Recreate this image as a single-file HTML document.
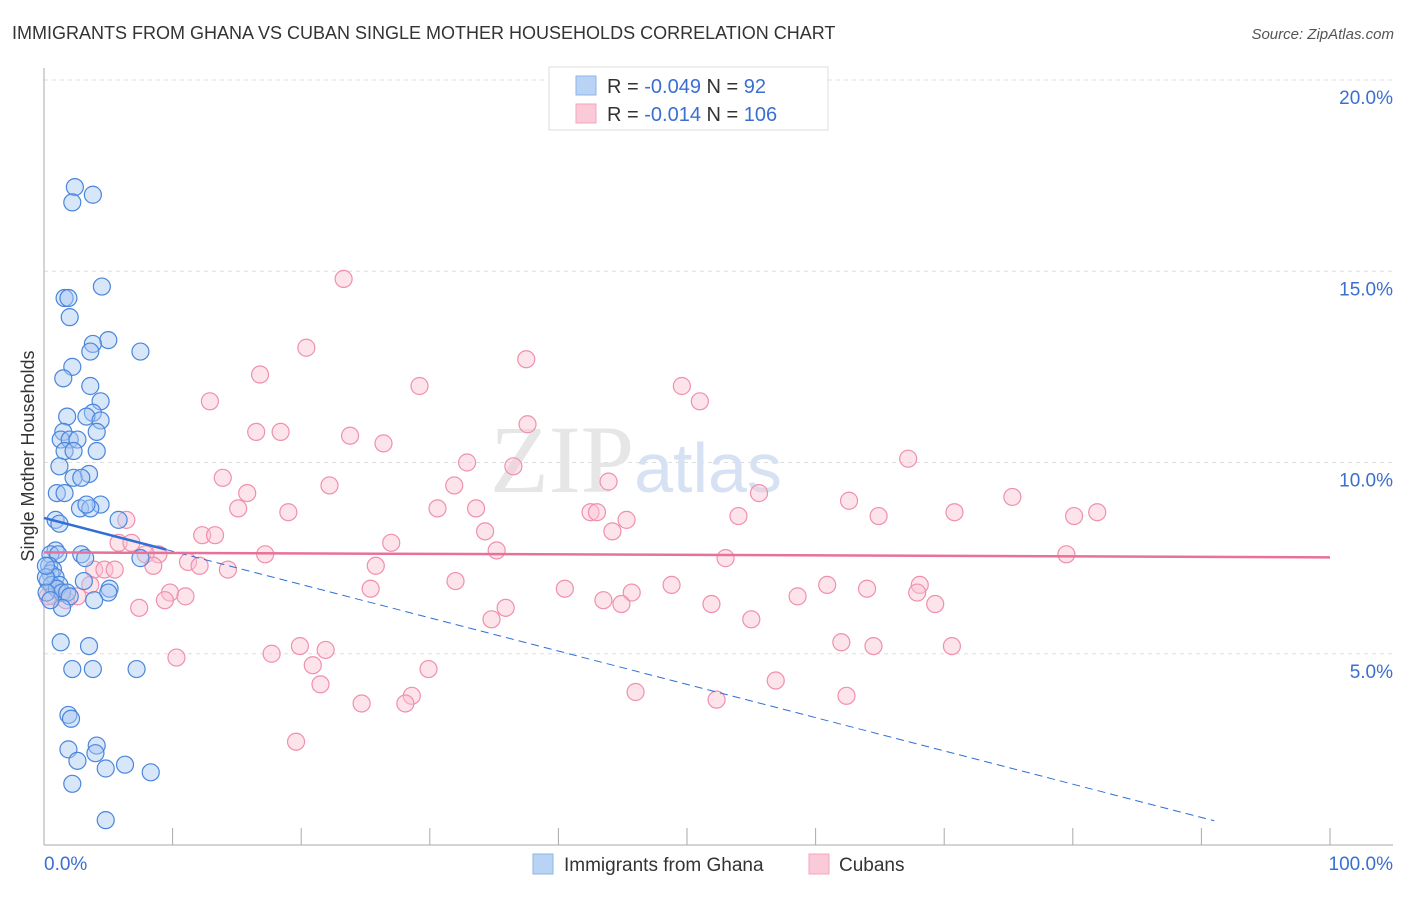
<!DOCTYPE html>
<html><head><meta charset="utf-8"><style>
body{margin:0;background:#fff;font-family:"Liberation Sans",sans-serif}
svg text{font-family:"Liberation Sans",sans-serif}
</style></head><body>
<svg id="chart" width="1406" height="892">
<text x="12" y="39" font-size="18" fill="#333">IMMIGRANTS FROM GHANA VS CUBAN SINGLE MOTHER HOUSEHOLDS CORRELATION CHART</text>
<text x="1394" y="39" font-size="15" fill="#555" text-anchor="end" font-style="italic">Source: ZipAtlas.com</text>
<text x="34" y="456" font-size="18" fill="#333" text-anchor="middle" transform="rotate(-90 34 456)">Single Mother Households</text>
<g id="grid"></g>
<text x="636" y="492" font-size="96" fill="#e6e6e6" text-anchor="middle" font-family="Liberation Serif"><tspan font-family="Liberation Serif">ZIP</tspan><tspan fill="#d6e2f4" font-size="70" font-family="Liberation Sans">atlas</tspan></text>
<g id="marks"></g>
<g>
<rect x="549" y="67" width="279" height="63" fill="#fff" stroke="#ddd"/>
<rect x="576" y="76" width="20" height="19" fill="#b9d3f5" stroke="#8fb4ea"/>
<rect x="576" y="104" width="20" height="19" fill="#fbcad8" stroke="#f3a5bd"/>
<text x="607" y="93" font-size="20" fill="#333">R = <tspan fill="#3a6fd1">-0.049</tspan>   N = <tspan fill="#3a6fd1">  92</tspan></text>
<text x="607" y="121" font-size="20" fill="#333">R =  <tspan fill="#3a6fd1">-0.014</tspan>   N = <tspan fill="#3a6fd1">106</tspan></text>
</g>
<g>
<rect x="533" y="854" width="20" height="20" fill="#b9d3f5" stroke="#8fb4ea"/>
<text x="564" y="871" font-size="19" fill="#333">Immigrants from Ghana</text>
<rect x="809" y="854" width="20" height="20" fill="#fbcad8" stroke="#f3a5bd"/>
<text x="839" y="871" font-size="19" fill="#333">Cubans</text>
</g>
</svg>
<script>
const yTicks=[5,10,15,20];
const yTickLabels=["5.0%","10.0%","15.0%","20.0%"];
const xTickLabels=["0.0%","100.0%"];
const ghanaX=[2.4,3.8,2.2,1.6,1.9,4.5,2,5,3.8,3.6,7.5,2.2,1.5,3.6,4.4,1.8,3.8,3.3,4.4,1.5,4.1,1.3,2,2.6,1.6,2.3,4.1,1.2,3.5,2.3,2.9,1,1.6,4.4,2.8,3.6,3.3,0.9,1.2,5.8,0.9,0.5,1.1,2.9,3.2,7.5,0.4,0.7,0.5,0.9,0.3,3.1,0.6,1.2,1,1.4,1.8,5.1,5,2,3.9,1.4,1.3,3.5,2.2,3.8,7.2,1.9,2.1,1.9,4.1,4,2.6,4.8,6.3,8.3,2.2,4.8,0.15,0.15,0.2,0.5];
const ghanaY=[17.2,17,16.8,14.3,14.3,14.6,13.8,13.2,13.1,12.9,12.9,12.5,12.2,12,11.6,11.2,11.3,11.2,11.1,10.8,10.8,10.6,10.6,10.6,10.3,10.3,10.3,9.9,9.7,9.6,9.6,9.2,9.2,8.9,8.8,8.8,8.9,8.5,8.4,8.5,7.7,7.6,7.6,7.6,7.5,7.5,7.3,7.2,7.1,7,6.9,6.9,6.8,6.8,6.7,6.6,6.6,6.7,6.6,6.5,6.4,6.2,5.3,5.2,4.6,4.6,4.6,3.4,3.3,2.5,2.6,2.4,2.2,2,2.1,1.9,1.6,0.65,7,7.3,6.6,6.4];
const cubaX=[23.3,20.4,37.5,16.8,29.2,49.6,12.9,51,37.6,16.5,18.4,23.8,26.4,32.9,67.2,36.5,13.9,22.2,43.9,31.9,15.8,55.6,75.3,62.6,30.6,33.6,15.1,19,42.5,43,64.9,70.8,81.9,54,80.1,45.3,6.4,34.3,44.2,12.3,13.3,5.8,6.8,27,35.2,8.9,7.9,17.2,53,79.5,11.2,12.1,8.5,25.8,14.3,3.9,4.7,5.5,32,40.5,48.8,60.9,64,68.1,25.4,45.7,67.9,9.8,11,9.4,43.5,58.6,44.9,51.9,69.3,35.9,7.4,34.8,55,62,64.5,19.9,21.9,70.6,10.3,17.7,20.9,29.9,21.5,56.9,46,52.3,62.4,28.6,28.1,24.7,19.6,2.6,1.2,0.7,1.7,0.3,3.6];
const cubaY=[14.8,13,12.7,12.3,12,12,11.6,11.6,11,10.8,10.8,10.7,10.5,10,10.1,9.9,9.6,9.4,9.5,9.4,9.2,9.2,9.1,9,8.8,8.8,8.8,8.7,8.7,8.7,8.6,8.7,8.7,8.6,8.6,8.5,8.5,8.2,8.2,8.1,8.1,7.9,7.9,7.9,7.7,7.6,7.6,7.6,7.5,7.6,7.4,7.3,7.3,7.3,7.2,7.2,7.2,7.2,6.9,6.7,6.8,6.8,6.7,6.8,6.7,6.6,6.6,6.6,6.5,6.4,6.4,6.5,6.3,6.3,6.3,6.2,6.2,5.9,5.9,5.3,5.2,5.2,5.1,5.2,4.9,5,4.7,4.6,4.2,4.3,4,3.8,3.9,3.9,3.7,3.7,2.7,6.5,6.6,6.5,6.4,6.5,6.8];
const ghanaFit=[8.55,-0.087];
const cubaFit=[7.65,-0.0013];
const X0=44,X1=1330,Y0=845,Y20=80;
const xS=v=>X0+(X1-X0)*v/100;
const yS=v=>Y0-(Y0-Y20)*v/20;
const NS="http://www.w3.org/2000/svg";
const grid=document.getElementById('grid'),marks=document.getElementById('marks');
function mk(tag,attrs,parent){const e=document.createElementNS(NS,tag);for(const k in attrs)e.setAttribute(k,attrs[k]);parent.appendChild(e);return e;}
yTicks.forEach((t,i)=>{
 const l=mk('line',{x1:X0,x2:1393,y1:yS(t),y2:yS(t),stroke:'#ddd','stroke-dasharray':'4,4'},grid);
 
 
 const tx=mk('text',{x:1393,y:yS(t)+24,'font-size':19,fill:'#3a6fd1','text-anchor':'end'},grid);
 tx.textContent=yTickLabels[i];
 
 
});
const ax=mk('line',{x1:X0,x2:X0,y1:68,y2:Y0,stroke:'#aaa'},grid);


const bx=mk('line',{x1:X0,x2:1393,y1:Y0,y2:Y0,stroke:'#aaa'},grid);


for(let i=1;i<=10;i++){const t=mk('line',{x1:xS(i*10),x2:xS(i*10),y1:Y0,y2:Y0-17,stroke:'#aaa'},grid);
 
 }
[[0,'start',44],[100,'end',1393]].forEach((d,i)=>{const t=mk('text',{x:d[2],y:870,'font-size':19,fill:'#3a6fd1','text-anchor':d[1]},grid);t.textContent=xTickLabels[i];
 
 });
function dots(xs,ys,fill,stroke,name){xs.forEach((x,i)=>{const c=mk('circle',{cx:xS(x),cy:yS(ys[i]),r:8.5,fill:fill,'fill-opacity':0.45,stroke:stroke,'stroke-width':1.2},marks);
 
 });}
dots(cubaX,cubaY,'#fbc3d3','#f08fae','cubans-point');
dots(ghanaX,ghanaY,'#a9c8f2','#4a86dc','ghana-point');
const f=(fit,x)=>fit[0]+fit[1]*x;
let l1=mk('line',{x1:xS(0),y1:yS(f(ghanaFit,0)),x2:xS(9.5),y2:yS(f(ghanaFit,9.5)),stroke:'#2f6fd6','stroke-width':2.5},marks);


let l2=mk('line',{x1:xS(9.5),y1:yS(f(ghanaFit,9.5)),x2:xS(91),y2:yS(f(ghanaFit,91)),stroke:'#2f6fd6','stroke-width':1,'stroke-dasharray':'8,5'},marks);


let l3=mk('line',{x1:xS(0),y1:yS(f(cubaFit,0)),x2:xS(100),y2:yS(f(cubaFit,100)),stroke:'#e8719a','stroke-width':2.5},marks);


</script>
</body></html>
